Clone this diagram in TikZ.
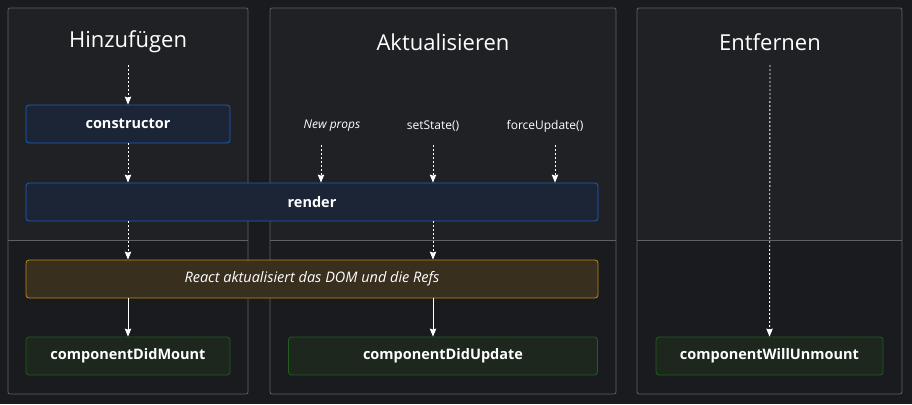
\documentclass[tikz,border=0pt]{standalone}
\usepackage{fontspec}
\setmainfont{Open Sans}
\usetikzlibrary{arrows.meta,positioning}
\definecolor{bgdark}{HTML}{1A1B1E}
\definecolor{panelup}{HTML}{202125}
\definecolor{panellow}{HTML}{1A1B1E}
\definecolor{panelline}{HTML}{606164}
\definecolor{renderfill}{HTML}{1B2536}
\definecolor{renderline}{HTML}{1E5EC2}
\definecolor{domfill}{HTML}{392F1F}
\definecolor{domline}{HTML}{BE8C10}
\definecolor{mountfill}{HTML}{1D271D}
\definecolor{mountline}{HTML}{1F5E1F}
\tikzset{
    panel/.style={draw=panelline, line width=0.8pt, rounded corners=2pt},
    phase/.style={text=white, font=\fontsize{22}{26}\selectfont},
    cause/.style={text=white, font=\fontsize{12}{14}\selectfont},
    lcbox/.style={rounded corners=3pt, line width=0.8pt, minimum height=38pt, inner sep=0pt, text=white, font=\bfseries\fontsize{14.5}{16}\selectfont},
    rbox/.style={lcbox, draw=renderline, fill=renderfill},
    dbox/.style={lcbox, draw=domline, fill=domfill, font=\itshape\fontsize{14.5}{16}\selectfont},
    mbox/.style={lcbox, draw=mountline, fill=mountfill},
    flow/.style={white, line width=0.9pt, -{Stealth[length=8pt,width=6.5pt,inset=1pt]}},
    dots/.style={flow, dash pattern=on 1.8pt off 2.2pt}
}
\begin{document}
\begin{tikzpicture}[x=1pt, y=-1pt]
    \useasboundingbox[fill=bgdark] (0,0) rectangle (912,404);
    % panels
    \foreach \xa/\xb in {8/248, 270/616, 637/902} {
        \fill[panellow, rounded corners=2pt] (\xa,8) rectangle (\xb,394);
        \fill[panelup, rounded corners=2pt] (\xa,8) rectangle (\xb,240);
        \fill[panelup] (\xa,200) rectangle (\xb,240);
        \draw[panel] (\xa,8) rectangle (\xb,394);
        \draw[panelline, line width=0.8pt] (\xa,240) -- (\xb,240);
    }
    \node[phase] (add) at (128,42) {Hinzufügen};
    \node[phase] (upd) at (443,42) {Aktualisieren};
    \node[phase] (rem) at (770,42) {Entfernen};
    \node[cause, font=\itshape\fontsize{12}{14}\selectfont] (np) at (332,126) {New props};
    \node[cause] (ss) at (433,126) {setState()};
    \node[cause] (fu) at (545,126) {forceUpdate()};
    \node[rbox, minimum width=204pt] (ctor) at (128,124) {constructor};
    \node[rbox, minimum width=572pt] (render) at (312,202) {render};
    \node[dbox, minimum width=572pt] (dom) at (312,279) {React aktualisiert das DOM und die Refs};
    \node[mbox, minimum width=204pt] (didm) at (128,356) {componentDidMount};
    \node[mbox, minimum width=309pt] (didu) at (443,356) {componentDidUpdate};
    \node[mbox, minimum width=227pt] (willu) at (769.5,356) {componentWillUnmount};
    \coordinate (ctorin) at (128,65);
    \coordinate (remin) at (770,65);
    \coordinate (npin) at (321,145);
    \coordinate (ssin) at (433,145);
    \coordinate (fuin) at (555,145);
    \draw
    (ctorin) edge[dots] (ctor)
    (ctor) edge[dots] (ctor.south |- render.north)
    (ctor.south |- render.south) edge[dots] (ctor.south |- dom.north)
    (ctor.south |- dom.south) edge[flow] (didm)
    (npin) edge[dots] (npin |- render.north)
    (ssin) edge[dots] (ssin |- render.north)
    (fuin) edge[dots] (fuin |- render.north)
    (ssin |- render.south) edge[dots] (ssin |- dom.north)
    (ssin |- dom.south) edge[flow] (ssin |- didu.north)
    (remin) edge[dots] (willu);
\end{tikzpicture}
\end{document}
